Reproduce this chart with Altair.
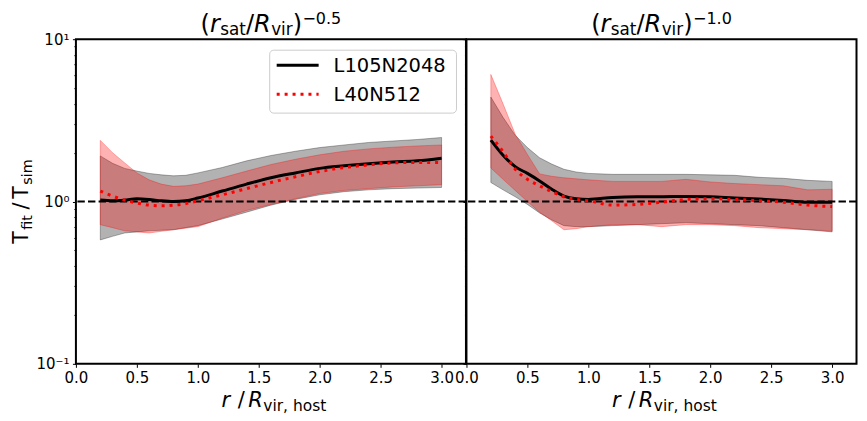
import altair as alt
import pandas as pd

# ---------------- data ----------------
X = [0.2, 0.3, 0.4, 0.5, 0.6, 0.7, 0.8, 0.9, 1.0, 1.2, 1.4, 1.6, 1.8, 2.0, 2.2, 2.4, 2.6, 2.8, 3.0]
SERIES = ["L105N2048", "L40N512"]
EXPONENTS = ["\u22120.5", "\u22121.0"]
X_TICKS = [0.0, 0.5, 1.0, 1.5, 2.0, 2.5, 3.0]
Y_MAJOR = [0.1, 1.0, 10.0]
Y_MINOR = [0.2, 0.3, 0.4, 0.5, 0.6, 0.7, 0.8, 0.9, 2, 3, 4, 5, 6, 7, 8, 9]

# panel (r_sat/R_vir)^-0.5
a_hr_mid = [1.02, 1.01, 1.02, 1.04, 1.03, 1.01, 1.00, 1.01, 1.05, 1.16, 1.28, 1.40, 1.50, 1.60, 1.66, 1.71, 1.75, 1.78, 1.85]
a_hr_lo = [0.58, 0.61, 0.64, 0.65, 0.66, 0.665, 0.67, 0.69, 0.71, 0.78, 0.86, 0.95, 1.03, 1.10, 1.15, 1.18, 1.20, 1.21, 1.22]
a_hr_hi = [1.91, 1.72, 1.60, 1.54, 1.49, 1.46, 1.44, 1.45, 1.50, 1.62, 1.78, 1.92, 2.04, 2.15, 2.23, 2.31, 2.36, 2.41, 2.48]
a_lr_mid = [1.16, 1.08, 1.02, 0.98, 0.95, 0.94, 0.95, 0.97, 1.01, 1.10, 1.20, 1.31, 1.42, 1.53, 1.62, 1.68, 1.73, 1.74, 1.74]
a_lr_lo = [0.72, 0.69, 0.66, 0.65, 0.64, 0.655, 0.67, 0.685, 0.70, 0.79, 0.88, 0.96, 1.04, 1.12, 1.17, 1.20, 1.23, 1.25, 1.27]
a_lr_hi = [2.38, 2.00, 1.73, 1.50, 1.36, 1.28, 1.24, 1.25, 1.28, 1.40, 1.54, 1.69, 1.82, 1.94, 2.04, 2.11, 2.16, 2.20, 2.23]

# panel (r_sat/R_vir)^-1.0
b_hr_mid = [2.39, 1.93, 1.64, 1.49, 1.34, 1.19, 1.08, 1.04, 1.03, 1.06, 1.07, 1.07, 1.075, 1.07, 1.05, 1.035, 1.015, 0.99, 0.99]
b_hr_lo = [1.31, 1.18, 1.07, 0.96, 0.85, 0.77, 0.71, 0.70, 0.70, 0.71, 0.72, 0.73, 0.74, 0.73, 0.72, 0.71, 0.69, 0.67, 0.65]
b_hr_hi = [4.40, 3.30, 2.56, 2.15, 1.86, 1.70, 1.58, 1.52, 1.49, 1.47, 1.47, 1.47, 1.47, 1.46, 1.45, 1.41, 1.39, 1.35, 1.33]
b_lr_mid = [2.53, 2.03, 1.58, 1.37, 1.25, 1.15, 1.07, 1.03, 1.01, 0.95, 0.96, 0.99, 1.03, 1.04, 1.03, 1.01, 0.99, 0.95, 0.93]
b_lr_lo = [1.61, 1.37, 1.17, 1.00, 0.86, 0.76, 0.67, 0.68, 0.70, 0.72, 0.72, 0.70, 0.72, 0.72, 0.71, 0.69, 0.68, 0.67, 0.66]
b_lr_hi = [6.06, 4.00, 2.60, 1.95, 1.48, 1.43, 1.40, 1.38, 1.36, 1.33, 1.33, 1.33, 1.37, 1.32, 1.29, 1.27, 1.25, 1.18, 1.19]

# ---------------- styling ----------------
FONT = "DejaVu Sans"
COLORS = ["black", "red"]
PW, PH = 390.5, 325
ONE = pd.DataFrame({"k": [0]})

# DejaVu Sans advance widths (units per 2048 em)
ADV = {" ": 651, "(": 799, ")": 799, ",": 651, ".": 651, "/": 690, "R": 1423, "T": 1251,
       "a": 1255, "f": 721, "h": 1298, "i": 569, "m": 1995, "o": 1253, "r": 842, "s": 1067,
       "t": 803, "v": 1212, "\u2212": 1716}


def tw(s, size):
    return sum(ADV.get(c, 1303) for c in s) / 2048.0 * size


def piece(s, x, y, size, italic=False, angle=0):
    return alt.Chart(ONE).mark_text(
        text=s, font=FONT, fontSize=size, fontStyle="italic" if italic else "normal",
        align="left", baseline="alphabetic", color="black", angle=angle,
    ).encode(x=alt.value(x), y=alt.value(y))


def run_h(pieces, cx, base):
    total = sum(tw(t, s) + g for t, s, it, dy, g in pieces)
    x = cx - total / 2
    out = []
    for t, s, it, dy, g in pieces:
        out.append(piece(t, x, base + dy, s, it))
        x += tw(t, s) + g
    return out


def run_v(pieces, cy, base):
    total = sum(tw(t, s) + g for t, s, it, dx, g in pieces)
    y = cy + total / 2
    out = []
    for t, s, it, dx, g in pieces:
        out.append(piece(t, base + dx, y, s, it, angle=270))
        y -= tw(t, s) + g
    return out


def panel_df(hr, lr):
    rows = []
    for name, (m, lo, hi) in zip(SERIES, [hr, lr]):
        for x, a, b, c in zip(X, m, lo, hi):
            rows.append({"series": name, "x": x, "mid": a, "lo": b, "hi": c})
    return pd.DataFrame(rows)


ysc = alt.Scale(type="log", domain=[0.1, 10], nice=False)
xsc = alt.Scale(domain=[0, 3.2], nice=False, zero=False)
xaxis = alt.Axis(values=X_TICKS, format=".1f", title=None, labelFlush=False, labelOverlap=False,
                 grid=False, domain=False, tickSize=3.5, tickWidth=1, tickColor="black",
                 labelPadding=3.5, labelFontSize=15, labelFont=FONT, labelColor="black")


def panel(df, exponent, left):
    base = alt.Chart(df)
    major_axis = alt.Axis(values=Y_MAJOR, title=None, grid=False, domain=False, tickSize=3.5,
                          tickWidth=1, tickColor="black", labels=left, labelFontSize=15,
                          labelFont=FONT, labelColor="black", labelPadding=3.5, labelOverlap=False,
                          labelExpr="datum.value < 0.15 ? '10\u207b\u00b9' : (datum.value < 1.5 ? '10\u2070' : '10\u00b9')")
    minor_axis = alt.Axis(values=Y_MINOR, title=None, grid=False, domain=False, tickSize=2,
                          tickWidth=1, tickColor="black", labels=False, orient="left")
    layers = []
    for i, (name, col) in enumerate(zip(SERIES, COLORS)):
        layers.append(
            base.transform_filter(alt.datum.series == name).mark_area(
                fill=col, fillOpacity=0.3, stroke=col, strokeOpacity=0.3, strokeWidth=1
            ).encode(
                x=alt.X("x:Q", scale=xsc, axis=xaxis),
                y=alt.Y("lo:Q", scale=ysc, stack=None, axis=major_axis if i == 0 else minor_axis),
                y2="hi:Q",
            )
        )
    layers.append(
        alt.Chart(pd.DataFrame({"one": [1.0]})).mark_rule(
            color="black", strokeWidth=2, strokeDash=[7.4, 3.2]
        ).encode(y=alt.Y("one:Q", scale=ysc, axis=None))
    )
    layers.append(
        base.transform_filter(alt.datum.series == SERIES[0]).mark_line(
            color="black", strokeWidth=3, interpolate="monotone"
        ).encode(x=alt.X("x:Q", scale=xsc, axis=xaxis), y=alt.Y("mid:Q", scale=ysc, axis=None))
    )
    layers.append(
        base.transform_filter(alt.datum.series == SERIES[1]).mark_line(
            color="red", strokeWidth=3, strokeDash=[3, 4.95], strokeCap="butt", interpolate="monotone"
        ).encode(x=alt.X("x:Q", scale=xsc, axis=xaxis), y=alt.Y("mid:Q", scale=ysc, axis=None))
    )

    # panel title (r_sat/R_vir)^exp
    F, S, SUP = 24, 16.8, 16
    layers += run_h([("(", F, False, 0, 0), ("r", F, True, 0, 0.5), ("sat", S, False, 3.2, 0),
                     ("/", F, False, 0, 0), ("R", F, True, 0, 0.5), ("vir", S, False, 3.2, 0),
                     (")", F, False, 0, 0.5), (exponent, SUP, False, -7.5, 0)], PW / 2, -7.5)
    # x-axis title r / R_vir,host
    F2, S2 = 21, 15.5
    layers += run_h([("r", F2, True, 0, 7.5), ("/", F2, False, 0, 3.5), ("R", F2, True, 0, 0.5),
                     ("vir, host", S2, False, 4, 0)], PW / 2 + 3, 368.5)

    if left:
        # y-axis title T_fit / T_sim
        F3, S3 = 20.5, 14.3
        layers += run_v([("T", F3, False, 0, 1.5), ("fit", S3, False, 3.5, 5.5),
                         ("/", F3, False, 0, 4), ("T", F3, False, 0, 1.5),
                         ("sim", S3, False, 3.5, 0)], PH / 2, -47.5)
        # legend
        layers.append(alt.Chart(ONE).mark_rect(
            fill="white", fillOpacity=0.8, stroke="#cccccc", strokeWidth=1, cornerRadius=4
        ).encode(x=alt.value(194), x2=alt.value(381), y=alt.value(11), y2=alt.value(74)))
        layers.append(alt.Chart(ONE).mark_rule(color="black", strokeWidth=3).encode(
            x=alt.value(201), x2=alt.value(243), y=alt.value(26)))
        layers.append(alt.Chart(ONE).mark_rule(color="red", strokeWidth=3, strokeDash=[3, 4.95],
                                               strokeCap="butt").encode(
            x=alt.value(201), x2=alt.value(243), y=alt.value(55)))
        for name, yy in zip(SERIES, [26, 55]):
            layers.append(alt.Chart(ONE).mark_text(
                text=name, font=FONT, fontSize=19.5, align="left", baseline="middle", color="black"
            ).encode(x=alt.value(258), y=alt.value(yy + 1)))
        # invisible anchor fixing the outer bounds
        layers.append(alt.Chart(ONE).mark_rule(strokeOpacity=0, strokeWidth=0).encode(
            x=alt.value(-67), x2=alt.value(-67), y=alt.value(-30), y2=alt.value(-29)))

    return alt.layer(*layers).resolve_axis(y="independent").properties(width=PW, height=PH)


left = panel(panel_df((a_hr_mid, a_hr_lo, a_hr_hi), (a_lr_mid, a_lr_lo, a_lr_hi)), EXPONENTS[0], True)
right = panel(panel_df((b_hr_mid, b_hr_lo, b_hr_hi), (b_lr_mid, b_lr_lo, b_lr_hi)), EXPONENTS[1], False)

chart = alt.hconcat(left, right, spacing=0, bounds="flush").properties(
    padding=0, background="white"
).configure_view(stroke="black", strokeWidth=2)

chart.save("out.html", embed_options={"renderer": "svg", "actions": False})
